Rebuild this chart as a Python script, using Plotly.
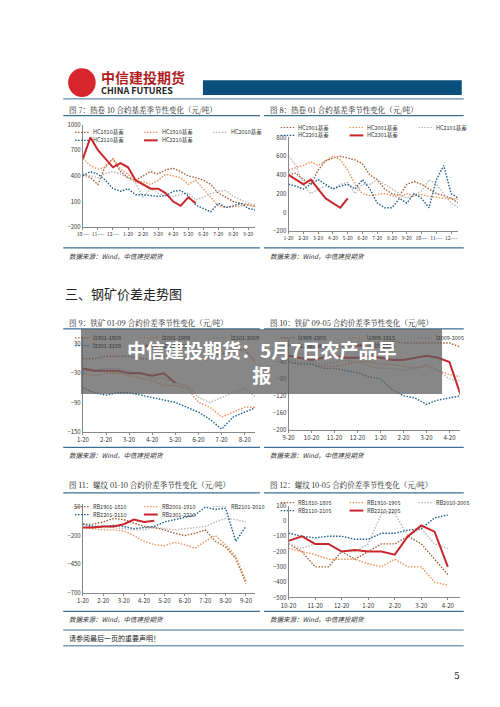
import plotly.graph_objects as go

# ---- data (approximate) ----
# Fig 7: HC 10 contract basis, half-month steps
hc7_names = ['HC1810基差', 'HC1910基差', 'HC2010基差', 'HC2110基差', 'HC2210基差']
hc7_ticks = ['10-…', '11-…', '12-…', '1-20', '2-20', '3-20', '4-20', '5-20', '6-20', '7-20', '8-20', '9-20']
hc1810 = [420, 380, 300, 520, 600, 450, 380, 350, 400, 450, 420, 470, 490, 450, 400, 380, 350, 300, 200, 150, 100, 80, 60, 40]
hc1910 = [600, 520, 480, 500, 600, 480, 420, 330, 330, 300, 350, 420, 400, 380, 300, 350, 250, 150, 50, 30, 40, 50, 60, 40]
hc2010 = [420, 400, 380, 430, 450, 420, 380, 320, 150, 250, 200, 170, 160, 180, 200, 120, 150, 190, 220, 230, 160, 120, 80, 60]
hc2110 = [400, 450, 420, 350, 250, 220, 250, 180, 180, 170, 160, 170, 220, 230, 170, 60, 20, -20, 80, 30, 50, 80, 20, 0]
hc2210 = [600, 850, 700, 600, 500, 550, 500, 350, 300, 250, 250, 200, 100, 50, 150, 80]

# Fig 8: HC 01 contract basis
hc8_names = ['HC1901基差', 'HC2001基差', 'HC2101基差', 'HC2201基差', 'HC2301基差']
hc8_ticks = ['1-20', '2-20', '3-20', '4-20', '5-20', '6-20', '7-20', '8-20', '9-20', '10-…', '11-…', '12-…']
hc1901 = [400, 420, 350, 300, 450, 550, 580, 600, 580, 560, 520, 400, 350, 250, 200, 180, 300, 330, 300, 250, 200, 180, 150, 100]
hc2001 = [450, 480, 500, 540, 500, 550, 600, 560, 450, 300, 200, 180, 190, 200, 180, 160, 200, 180, 190, 170, 160, 150, 150, 140]
hc2101 = [600, 500, 300, 200, 250, 280, 250, 300, 320, 200, 300, 300, 350, 300, 250, 200, 150, 180, 230, 350, 300, 200, 100, 50]
hc2201 = [300, 280, 250, 300, 350, 300, 250, 280, 300, 250, 350, 250, 100, 50, 50, 150, 100, 200, 150, 50, 350, 500, 200, 150]
hc2301 = [400, 350, 300, 350, 250, 150, 100, 50, 150]

# Fig 9: iron ore 01-09 spread
i9_names = ['I1901-1809', 'I2001-1909', 'I2101-2009', 'I2201-2109', 'I2301-2209']
i9_ticks = ['1-20', '2-20', '3-20', '4-20', '5-20', '6-20', '7-20', '8-20']
i1901 = [0, 0, 5, 5, 5, 0, 0, 5, 5, 0, 0, 5, 10, 15, 20, -10]
i2001 = [-30, -35, -30, -30, -35, -40, -45, -55, -55, -60, -90, -100, -120, -110, -100, -100]
i2101 = [-25, -25, -20, -20, -25, -30, -40, -40, -50, -55, -80, -90, -80, -70, -60, -80]
i2201 = [-60, -70, -75, -70, -70, -75, -80, -85, -90, -100, -110, -125, -145, -120, -110, -100]
i2301 = [-20, -25, -25, -25, -30, -30, -35, -30, -50]

# Fig 10: iron ore 09-05 spread
i10_names = ['I1909-1905', 'I1909-1915', 'I2009-2005', 'I2109-2105', 'I2209-2205']
i10_ticks = ['9-20', '10-20', '11-20', '12-20', '1-20', '2-20', '3-20', '4-20']
i1909 = [0, -5, -5, 0, 0, -5, 0, 5, 5, 10, 5, 5, 5, 5, 5, -5]
i1915 = [-40, -45, -45, -50, -50, -45, -40, -40, -45, -45, -50, -55, -50, -60, -70, -75]
i2009 = [-35, -40, -40, -45, -40, -35, -40, -50, -55, -55, -60, -55, -45, -60, -80, -85]
i2109 = [-40, -45, -45, -55, -55, -60, -65, -75, -80, -105, -120, -125, -140, -130, -125, -120]
i2209 = [-25, -30, -35, -30, -25, -30, -30, -25, -30, -35, -35, -30, -25, -30, -40, -120]

# Fig 11: rebar 01-10 spread
rb11_names = ['RB1901-1810', 'RB2001-1910', 'RB2101-2010', 'RB2201-2110', 'RB2301-2210']
rb11_ticks = ['1-20', '2-20', '3-20', '4-20', '5-20', '6-20', '7-20', '8-20', '9-20']
rb1901 = [-100, -100, -80, -50, -60, -90, -120, -130, -150, -180, -200, -180, -150, -250, -300, -400, -620]
rb2001 = [-130, -140, -150, -150, -160, -200, -250, -280, -290, -260, -280, -310, -250, -200, -280, -380, -600]
rb2101 = [-100, -120, -120, -130, -140, -150, -150, -130, -140, -150, -140, -130, -120, -80, -50, -60, -80]
rb2201 = [-100, -120, -120, -110, -120, -140, -130, -120, -80, -60, -40, -20, 50, 30, 40, -250, -120]
rb2301 = [-130, -130, -120, -120, -100, -60, -80, -70]

# Fig 12: rebar 10-05 spread
rb12_names = ['RB1810-1805', 'RB1910-1905', 'RB2010-2005', 'RB2110-2105', 'RB2210-2205']
rb12_ticks = ['10-20', '11-20', '12-20', '1-20', '2-20', '3-20', '4-20']
rb1810 = [-150, -200, -300, -300, -200, -250, -200, -150, -150, -100, -150, -250, -350]
rb1910 = [-180, -200, -220, -250, -250, -250, -280, -300, -250, -300, -300, -400, -420]
rb2010 = [-150, -180, -150, -150, -200, -200, -150, 50, 50, -100, -50, -150, -180]
rb2110 = [-80, -100, -110, -100, -100, -120, -120, -80, -80, -60, -50, 20, 40]
rb2210 = [-130, -100, -150, -150, -200, -190, -200, -200, -220, -100, -30, -70, -300]

colors = ['#a0603a', '#f0925a', '#b8b8b8', '#1f5f8b', '#c8262c']
DOT = '1.5px,1.5px'
FONT = 'Noto Sans CJK SC'


def X(px):
    return px / 500


def Y(py):
    return 1 - py / 707


fig = go.Figure()

charts = [
    # series, names, ticks, x px, y px (top, bottom), yrange, ytickvals, legend top px
    ([hc1810, hc1910, hc2010, hc2110, hc2210], hc7_names, hc7_ticks, (68, 243), (113, 217), [-200, 1000], [-200, 100, 400, 700, 1000], 118),
    ([hc1901, hc2001, hc2101, hc2201, hc2301], hc8_names, hc8_ticks, (277, 449), (126, 221), [-200, 800], [-200, 0, 200, 400, 600, 800], 113),
    ([i1901, i2001, i2101, i2201, i2301], i9_names, i9_ticks, (68, 243), (328, 424), [-150, 45], [-150, -90, -30, 30], 326),
    ([i1909, i1915, i2009, i2109, i2209], i10_names, i10_ticks, (277, 451), (330, 422), [-200, 15], [-200, -160, -120, -80, -40, 0], 326),
    ([rb1901, rb2001, rb2101, rb2201, rb2301], rb11_names, rb11_ticks, (68, 243), (497, 587), [-700, 80], [-700, -450, -200, 50], 497),
    ([rb1810, rb1910, rb2010, rb2110, rb2210], rb12_names, rb12_ticks, (277, 451), (499, 592), [-500, 100], [-500, -400, -300, -200, -100, 0, 100], 493),
]

shapes = []
annotations = []
for k, (series, names, ticks, (x0, x1), (y0, y1), yr, ytv, lgy) in enumerate(charts):
    ax = '' if k == 0 else str(k + 1)
    xmax = len(ticks) - 1 + 0.45
    for j, (s, n) in enumerate(zip(series, names)):
        xs = [i * 0.5 for i in range(len(s))]
        fig.add_trace(go.Scatter(
            x=xs, y=s, mode='lines', name=n, showlegend=False,
            xaxis='x' + ax, yaxis='y' + ax,
            line=dict(color=colors[j], width=2 if j == 4 else 1.4, dash='solid' if j == 4 else DOT)))
    fs = 5 if len(ticks) > 10 else 6
    fig.layout['xaxis' + ax] = dict(
        domain=[X(x0), X(x1)], anchor='y' + ax, range=[0, xmax],
        tickvals=list(range(len(ticks))), ticktext=ticks, showgrid=False, tickangle=0,
        showline=True, linecolor='#888', linewidth=1, ticks='outside', ticklen=2,
        tickcolor='#888', tickfont=dict(size=fs, color='#333', family=FONT), zeroline=False)
    fig.layout['yaxis' + ax] = dict(
        domain=[Y(y1), Y(y0)], anchor='x' + ax, range=yr, tickvals=ytv,
        showgrid=False, showline=True, linecolor='#888', linewidth=1,
        tickfont=dict(size=6, color='#333', family=FONT), zeroline=False)
    # hand-drawn legend, three per row
    for j, n in enumerate(names):
        col, row = j % 3, j // 3
        lx = x0 - 8 + col * 70
        ly = lgy + 3 + row * 8
        shapes.append(dict(type='line', xref='paper', yref='paper',
                           x0=X(lx), x1=X(lx + 14), y0=Y(ly), y1=Y(ly),
                           line=dict(color=colors[j], width=2 if j == 4 else 1.2,
                                     dash='solid' if j == 4 else DOT)))
        annotations.append(dict(text=n, xref='paper', yref='paper', x=X(lx + 16), y=Y(ly),
                                xanchor='left', yanchor='middle', showarrow=False,
                                font=dict(size=5.5, color='#333', family=FONT)))

# page decoration: titles, rules, sources
titles = [
    ('图 7：热卷 10 合约基差季节性变化（元/吨）', 52, 98),
    ('图 8：热卷 01 合约基差季节性变化（元/吨）', 256, 98),
    ('图 9：铁矿 01-09 合约价差季节性变化（元/吨）', 52, 313),
    ('图 10：铁矿 09-05 合约价差季节性变化（元/吨）', 256, 313),
    ('图 11：螺纹 01-10 合约价差季节性变化（元/吨）', 52, 478),
    ('图 12：螺纹 10-05 合约价差季节性变化（元/吨）', 256, 478),
]
for t, x, y in titles:
    annotations.append(dict(text=t, xref='paper', yref='paper', x=X(x), y=Y(y), xanchor='left',
                            yanchor='middle', showarrow=False,
                            font=dict(size=7.5, color='#222', family='Noto Serif CJK SC, ' + FONT)))
for y in (104, 320, 486):
    for xa, xb in ((48, 248), (252, 455)):
        shapes.append(dict(type='line', xref='paper', yref='paper', x0=X(xa), x1=X(xb),
                           y0=Y(y), y1=Y(y), line=dict(color='#3a6f96', width=1.2)))
for y in (238, 440, 606):
    for xa, xb in ((48, 248), (252, 455)):
        shapes.append(dict(type='line', xref='paper', yref='paper', x0=X(xa), x1=X(xb),
                           y0=Y(y), y1=Y(y), line=dict(color='#3a6f96', width=1.2)))
    for x in (52, 256):
        annotations.append(dict(text='<i>数据来源：Wind，中信建投期货</i>', xref='paper', yref='paper',
                                x=X(x), y=Y(y + 8), xanchor='left', yanchor='middle', showarrow=False,
                                font=dict(size=6.5, color='#333', family=FONT)))

# header
shapes.append(dict(type='circle', xref='paper', yref='paper', x0=X(54), x1=X(80), y0=Y(84), y1=Y(57),
                   fillcolor='#d7262e', line=dict(color='#d7262e')))
shapes.append(dict(type='rect', xref='paper', yref='paper', x0=X(190), x1=X(453), y0=Y(83), y1=Y(68),
                   fillcolor='#0b4f7c', line=dict(width=0)))
shapes.append(dict(type='line', xref='paper', yref='paper', x0=X(48), x1=X(455), y0=Y(87), y1=Y(87),
                   line=dict(color='#3a6f96', width=1)))
annotations += [
    dict(text='<b>中信建投期货</b>', xref='paper', yref='paper', x=X(84), y=Y(65), xanchor='left',
         yanchor='middle', showarrow=False, font=dict(size=14, color='#b01e24', family=FONT)),
    dict(text='<b>CHINA FUTURES</b>', xref='paper', yref='paper', x=X(84), y=Y(79), xanchor='left',
         yanchor='middle', showarrow=False, font=dict(size=9, color='#222', family=FONT)),
    dict(text='三、钢矿价差走势图', xref='paper', yref='paper', x=X(48), y=Y(284), xanchor='left',
         yanchor='middle', showarrow=False, font=dict(size=13, color='#222', family=FONT)),
    dict(text='请参阅最后一页的重要声明！', xref='paper', yref='paper', x=X(52), y=Y(633), xanchor='left',
         yanchor='middle', showarrow=False, font=dict(size=7, color='#222', family=FONT)),
    dict(text='5', xref='paper', yref='paper', x=X(453), y=Y(672), xanchor='right',
         yanchor='middle', showarrow=False, font=dict(size=9, color='#222', family='DejaVu Serif')),
]
for y in (625, 641):
    shapes.append(dict(type='line', xref='paper', yref='paper', x0=X(48), x1=X(455), y0=Y(y), y1=Y(y),
                       line=dict(color='#3a6f96', width=1)))

# overlay banner
shapes.append(dict(type='rect', xref='paper', yref='paper', x0=X(66), x1=X(433), y0=Y(386), y1=Y(320),
                   fillcolor='rgba(95,95,95,0.75)', line=dict(width=0), layer='above'))
annotations.append(dict(text='<b>中信建投期货：5月7日农产品早<br>报</b>', xref='paper', yref='paper',
                        x=X(249), y=Y(353), xanchor='center', yanchor='middle', showarrow=False,
                        font=dict(size=19, color='white', family=FONT)))

fig.update_layout(width=500, height=707, margin=dict(l=0, r=0, t=0, b=0),
                  paper_bgcolor='white', plot_bgcolor='white',
                  shapes=shapes, annotations=annotations, showlegend=False)
fig.write_html('out.html')
